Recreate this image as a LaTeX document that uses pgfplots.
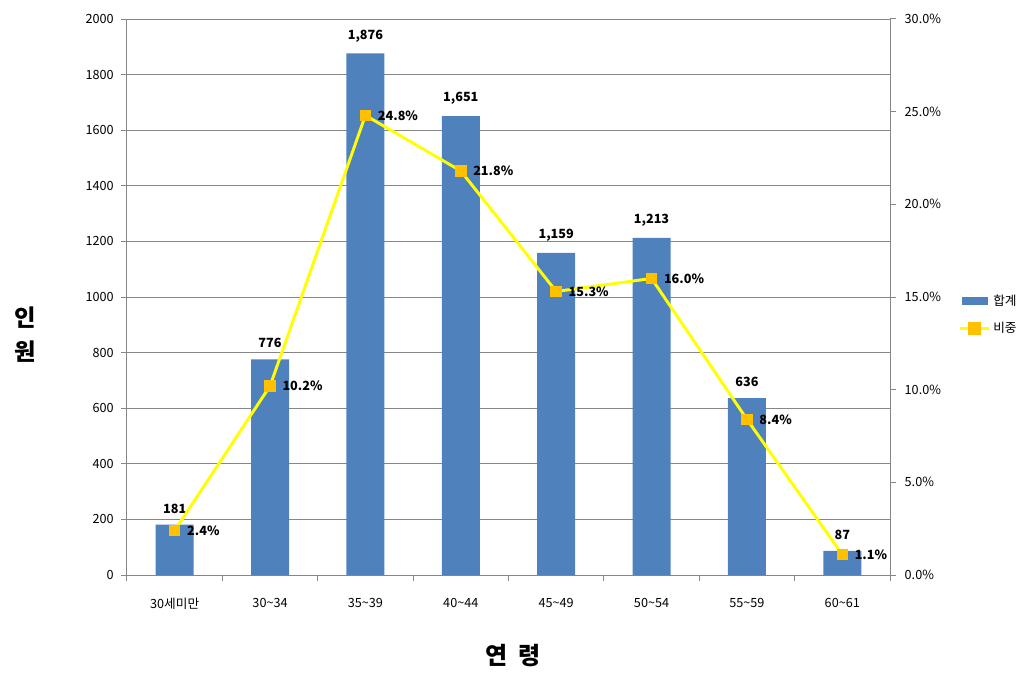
\documentclass[border=0pt]{standalone}
\usepackage{fontspec}
\setmainfont{Noto Sans CJK KR}
\usepackage{pgfplots}
\pgfplotsset{compat=1.18}
\definecolor{barblue}{HTML}{4F81BD}
\definecolor{gridgray}{HTML}{868686}
\definecolor{mkorange}{HTML}{FFC000}
\definecolor{lnyellow}{HTML}{FFFF00}
\pgfplotstableread{
x tot pct
0 181 2.4
1 776 10.2
2 1876 24.8
3 1651 21.8
4 1159 15.3
5 1213 16.0
6 636 8.4
7 87 1.1
}\datatab
\begin{document}
\begin{tikzpicture}
\useasboundingbox (-95.25pt,-75.75pt) rectangle (677.25pt,431.25pt);
\begin{axis}[
  at={(0pt,0pt)}, anchor=south west,
  scale only axis, width=572.25pt, height=417pt,
  xmin=-0.5, xmax=7.5, ymin=0, ymax=2000,
  axis y line*=left, axis x line*=bottom,
  axis line style={gridgray, line width=0.75pt},
  ytick={0,200,...,2000},
  xtick={-0.5,0.5,...,7.5}, xticklabels={},
  extra x ticks={0,1,2,3,4,5,6,7},
  extra x tick labels={30세미만,30\textasciitilde34,35\textasciitilde39,40\textasciitilde44,45\textasciitilde49,50\textasciitilde54,55\textasciitilde59,60\textasciitilde61},
  extra x tick style={major tick length=0pt, grid=none},
  tick align=outside, major tick length=4.5pt,
  tick style={gridgray, line width=0.75pt},
  ymajorgrids, grid style={gridgray, line width=0.75pt},
  tick label style={font=\fontsize{9.5}{11}\selectfont},
  x tick label style={yshift=-14pt},
  y tick label style={xshift=-2pt},
  /pgf/number format/assume math mode=true,
  scaled y ticks=false,
  yticklabel style={/pgf/number format/1000 sep={}},
  ylabel={인\\원},
  ylabel style={at={(axis description cs:-0.134,0.432)}, anchor=center, rotate=-90, align=center, font=\bfseries\fontsize{17.5}{25.5}\selectfont},
  xlabel={연\hspace{0.45em}령},
  xlabel style={at={(axis description cs:0.506,-0.144)}, anchor=center, font=\bfseries\fontsize{18}{20}\selectfont},
  ybar, bar width=28.5pt,
  nodes near coords,
  nodes near coords style={font=\bfseries\fontsize{9.5}{11}\selectfont, yshift=5pt, /pgf/number format/1000 sep={,}, /pgf/number format/assume math mode=true},
]
\addplot[fill=barblue, draw=none] table[x=x, y=tot] {\datatab};
\end{axis}
\begin{axis}[
  at={(0pt,0pt)}, anchor=south west,
  scale only axis, width=572.25pt, height=417pt,
  xmin=-0.5, xmax=7.5, ymin=0, ymax=30,
  axis y line*=right, axis x line=none,
  axis line style={gridgray, line width=0.75pt},
  ytick={0,5,...,30},
  yticklabel={\pgfmathprintnumber[fixed, fixed zerofill, precision=1]{\tick}\%},
  tick align=outside, major tick length=4.5pt,
  tick style={gridgray, line width=0.75pt},
  tick label style={font=\fontsize{9.5}{11}\selectfont},
  y tick label style={xshift=3pt},
  /pgf/number format/assume math mode=true,
  legend style={at={(axis description cs:1.084,0.468)}, anchor=west, draw=none, fill=none, font=\fontsize{9.5}{11}\selectfont, row sep=7pt, legend cell align=left},
  nodes near coords,
  point meta=explicit,
  nodes near coords={\pgfmathprintnumber[fixed, fixed zerofill, precision=1]{\pgfplotspointmeta}\%},
  nodes near coords style={font=\bfseries\fontsize{9.5}{11}\selectfont, text=black, anchor=west, xshift=6pt, /pgf/number format/assume math mode=true},
]
\addlegendimage{legend image code/.code={\fill[barblue] (1.5pt,-2.6pt) rectangle (20.5pt,2.6pt);}}
\addlegendentry{합계}
\addplot[lnyellow, line width=2.2pt, mark=square*, mark size=3.9pt, mark options={fill=mkorange, draw=mkorange, line width=0pt},
  legend image code/.code={\draw[lnyellow, line width=2.2pt] (0pt,0pt) -- (22pt,0pt); \fill[mkorange] (7.1pt,-3.9pt) rectangle (14.9pt,3.9pt);}] table[x=x, y=pct, meta=pct] {\datatab};
\addlegendentry{비중}
\end{axis}
\end{tikzpicture}
\end{document}
